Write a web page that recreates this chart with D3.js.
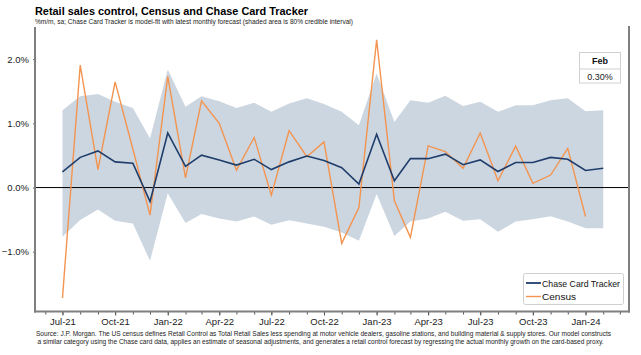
<!DOCTYPE html>
<html><head><meta charset="utf-8">
<script src="https://cdn.jsdelivr.net/npm/d3@7"></script>
<style>
html,body{margin:0;padding:0;background:#fff;}
svg{display:block;font-family:"Liberation Sans",Arial,sans-serif;}
</style></head>
<body>
<svg id="chart" width="641" height="355"></svg>
<script>
const months = ["2021-07","2021-08","2021-09","2021-10","2021-11","2021-12",
"2022-01","2022-02","2022-03","2022-04","2022-05","2022-06","2022-07","2022-08","2022-09","2022-10","2022-11","2022-12",
"2023-01","2023-02","2023-03","2023-04","2023-05","2023-06","2023-07","2023-08","2023-09","2023-10","2023-11","2023-12",
"2024-01","2024-02"];
const chase = [0.245,0.47,0.57,0.40,0.38,-0.22,
0.85,0.33,0.505,0.43,0.35,0.44,0.28,0.40,0.49,0.42,0.31,0.054,
0.83,0.106,0.45,0.45,0.52,0.355,0.43,0.25,0.39,0.39,0.47,0.44,
0.265,0.30];
const census = [-1.72,1.905,0.28,1.645,0.6,-0.43,
1.73,0.15,1.35,1.0,0.27,0.78,-0.12,0.885,0.48,0.71,-0.87,-0.31,
2.30,-0.205,-0.775,0.65,0.56,0.30,0.85,0.106,0.645,0.065,0.195,0.61,
-0.45];
const bandUpper = [1.205,1.42,1.455,1.335,1.24,0.765,
1.84,1.26,1.42,1.345,1.24,1.32,1.18,1.31,1.39,1.30,1.18,0.97,
1.775,1.02,1.36,1.32,1.43,1.27,1.335,1.18,1.28,1.28,1.36,1.39,
1.19,1.205];
const bandLower = [-0.765,-0.505,-0.34,-0.515,-0.56,-1.14,
-0.09,-0.55,-0.41,-0.48,-0.53,-0.45,-0.58,-0.51,-0.56,-0.61,-0.70,-0.83,
-0.10,-0.755,-0.53,-0.48,-0.375,-0.515,-0.495,-0.69,-0.53,-0.495,-0.445,-0.53,
-0.635,-0.635];
const yTicks = [-1,0,1,2];
const xTickLabels = ["2021-07","2021-10","2022-01","2022-04","2022-07","2022-10","2023-01","2023-04","2023-07","2023-10","2024-01"];
const latestLabel = "Feb";
const latestValue = "0.30%";
const title = "Retail sales control, Census and Chase Card Tracker";
const subtitle = "%m/m, sa; Chase Card Tracker is model-fit with latest monthly forecast (shaded area is 80% credible interval)";
const footer1 = "Source: J.P. Morgan. The US census defines Retail Control as Total Retail Sales less spending at motor vehicle dealers, gasoline stations, and building material & supply stores. Our model constructs";
const footer2 = "a similar category using the Chase card data, applies an estimate of seasonal adjustments, and generates a retail control forecast by regressing the actual monthly growth on the card-based proxy.";

const parse = d3.timeParse("%Y-%m");
const svg = d3.select("#chart");
const L = 35, R = 629, T = 27, B = 311.5;
const narrow = '"Liberation Sans Narrow","Arial Narrow","Liberation Sans",sans-serif';

const x = d3.scaleTime().domain([new Date(2021,4,14), new Date(2024,2,17)]).range([L, R]);
const y = d3.scaleLinear().domain([-1.93, 2.5]).range([B, T]);

const dates = months.map(parse);

// band
const bandData = dates.map((d,i)=>({d, lo: bandLower[i], hi: bandUpper[i]}));
svg.append("path").datum(bandData)
  .attr("fill","#ccd6e1")
  .attr("d", d3.area().x(d=>x(d.d)).y0(d=>y(d.lo)).y1(d=>y(d.hi)));

// zero line
svg.append("line").attr("x1",L).attr("x2",R).attr("y1",y(0)).attr("y2",y(0))
  .attr("stroke","#000").attr("stroke-width",1);

// census
svg.append("path").datum(census.map((v,i)=>({d:dates[i], v})))
  .attr("fill","none").attr("stroke","#f39450").attr("stroke-width",1.4)
  .attr("d", d3.line().x(d=>x(d.d)).y(d=>y(d.v)));

// chase
svg.append("path").datum(chase.map((v,i)=>({d:dates[i], v})))
  .attr("fill","none").attr("stroke","#1f3d6b").attr("stroke-width",1.6)
  .attr("d", d3.line().x(d=>x(d.d)).y(d=>y(d.v)));

// axes
const yAxis = d3.axisLeft(y).tickValues(yTicks).tickFormat(d=>d3.format(".1f")(d)+"%").tickSize(2).tickPadding(4);
const gy = svg.append("g").attr("transform",`translate(${L},0)`).call(yAxis);
gy.select(".domain").remove();
gy.selectAll(".tick line").attr("stroke","#666");
gy.selectAll("text").attr("font-size","9.5px").attr("fill","#222");

const allMonths = d3.timeMonth.range(new Date(2021,5,1), new Date(2024,3,1));
const xAxisMinor = d3.axisBottom(x).tickValues(allMonths).tickSize(3).tickFormat("");
const gxm = svg.append("g").attr("transform",`translate(0,${B})`).call(xAxisMinor);
gxm.select(".domain").remove();
gxm.selectAll(".tick line").attr("stroke","#555");

const xAxis = d3.axisBottom(x).tickValues(xTickLabels.map(parse)).tickSize(4).tickPadding(3)
  .tickFormat(d3.timeFormat("%b-%y"));
const gx = svg.append("g").attr("transform",`translate(0,${B})`).call(xAxis);
gx.select(".domain").remove();
gx.selectAll(".tick line").attr("stroke","#555");
gx.selectAll("text").attr("font-size","9.5px").attr("fill","#222");

// frame lines (left, bottom, right)
svg.append("line").attr("x1",L).attr("x2",L).attr("y1",T).attr("y2",B+1).attr("stroke","#7f7f7f").attr("stroke-width",2);
svg.append("line").attr("x1",R).attr("x2",R).attr("y1",T-1).attr("y2",B+1).attr("stroke","#7f7f7f").attr("stroke-width",2);
svg.append("line").attr("x1",L-1).attr("x2",R+1).attr("y1",B).attr("y2",B).attr("stroke","#7f7f7f").attr("stroke-width",2);

// title
svg.append("text").attr("x",35).attr("y",15).attr("font-size","11px").attr("font-weight","bold")
  .attr("fill","#000").attr("textLength",273).attr("lengthAdjust","spacingAndGlyphs").text(title);
svg.append("text").attr("x",35).attr("y",23.5).attr("font-size","7px").attr("fill","#222")
  .style("font-family",narrow)
  .attr("textLength",318).attr("lengthAdjust","spacingAndGlyphs").text(subtitle);

// footer
svg.append("text").attr("x",36).attr("y",336).attr("font-size","6.6px").attr("fill","#222")
  .style("font-family",narrow)
  .attr("textLength",575).attr("lengthAdjust","spacingAndGlyphs").text(footer1);
svg.append("text").attr("x",37.5).attr("y",343.5).attr("font-size","6.6px").attr("fill","#222")
  .style("font-family",narrow)
  .attr("textLength",566).attr("lengthAdjust","spacingAndGlyphs").text(footer2);

// Feb box
const fb = svg.append("g");
fb.append("rect").attr("x",579.5).attr("y",52.5).attr("width",41).attr("height",30.5)
  .attr("fill","#fff").attr("stroke","#d0d0d0").attr("stroke-width",1);
fb.append("line").attr("x1",579.5).attr("x2",620.5).attr("y1",69).attr("y2",69).attr("stroke","#d0d0d0");
fb.append("text").attr("x",600).attr("y",64).attr("text-anchor","middle").attr("font-size","9px")
  .attr("font-weight","bold").attr("fill","#111").text(latestLabel);
fb.append("text").attr("x",600).attr("y",79.5).attr("text-anchor","middle").attr("font-size","9px")
  .attr("fill","#222").text(latestValue);

// legend
const lg = svg.append("g");
lg.append("rect").attr("x",523.5).attr("y",273.5).attr("width",100).attr("height",31).attr("rx",2)
  .attr("fill","#fff").attr("stroke","#cfcfcf");
const items = [["Chase Card Tracker","#1f3d6b",1.8,78],["Census","#f39450",1.4,34]];
items.forEach((it,i)=>{
  const yy = 283 + i*13.5;
  lg.append("line").attr("x1",526).attr("x2",541).attr("y1",yy).attr("y2",yy).attr("stroke",it[1]).attr("stroke-width",it[2]);
  lg.append("text").attr("x",542).attr("y",yy+3.5).attr("font-size","9.8px").attr("fill","#111")
    .style("font-family",narrow)
    .attr("textLength",it[3]).attr("lengthAdjust","spacingAndGlyphs")
    .text(it[0]);
});
</script>
</body></html>
